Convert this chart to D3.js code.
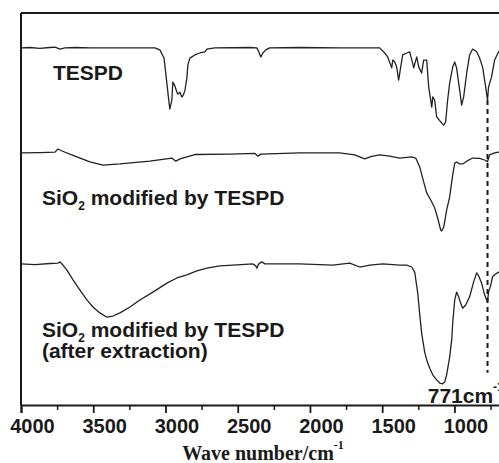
<!DOCTYPE html>
<html>
<head>
<meta charset="utf-8">
<script src="https://cdn.jsdelivr.net/npm/d3@7"></script>
<style>
  body { margin: 0; background: #fff; overflow: hidden; }
  svg { display: block; }
</style>
</head>
<body>
<div id="chart"></div>
<script>
// FTIR spectra: TESPD, modified SiO2, modified SiO2 after extraction
// x = wave number (cm-1, reversed), y = offset transmittance (arbitrary units)

const majorTicks = [4000, 3500, 3000, 2500, 2000, 1500, 1000];
const minorTicks = [3750, 3250, 2750, 2250, 1750, 1250, 750];

const tespd = [
    [4000, 91.1], [3938, 91.2], [3869, 91.0], [3800, 91.2], [3765, 91.3], [3730, 90.8],
    [3696, 91.1], [3627, 91.2], [3523, 91.1], [3315, 91.1], [3073, 91.1], [3039, 90.6],
    [3010, 88.5], [2990, 82.0], [2975, 77.0], [2970, 75.5], [2956, 77.8], [2949, 82.4],
    [2935, 81.4], [2921, 79.8], [2914, 79.3], [2900, 79.8], [2887, 78.6], [2880, 78.8],
    [2866, 80.1], [2852, 83.4], [2845, 86.7], [2831, 88.5], [2797, 89.3], [2762, 89.8],
    [2727, 90.1], [2714, 90.8], [2658, 91.1], [2416, 91.2], [2368, 91.1], [2354, 90.1],
    [2340, 88.8], [2326, 89.8], [2306, 90.6], [2278, 91.1], [2071, 91.2], [1794, 91.1],
    [1517, 91.1], [1483, 89.8], [1462, 88.8], [1434, 86.0], [1427, 88.0], [1413, 87.5],
    [1400, 86.2], [1386, 82.9], [1372, 86.2], [1358, 89.3], [1330, 89.8], [1310, 90.1],
    [1289, 87.2], [1282, 86.0], [1261, 88.8], [1247, 86.2], [1227, 84.7], [1213, 88.0],
    [1192, 88.0], [1178, 81.1], [1157, 76.0], [1150, 78.6], [1137, 77.8], [1123, 73.5],
    [1088, 71.9], [1074, 71.4], [1061, 72.2], [1047, 77.8], [1033, 82.1], [1012, 86.2],
    [998, 87.5], [985, 86.0], [964, 80.4], [950, 76.5], [936, 78.6], [915, 84.7],
    [895, 89.3], [874, 90.8], [846, 90.1], [826, 88.5], [805, 86.2], [788, 82.1],
    [771, 77.8], [764, 81.1], [743, 83.7], [722, 88.0], [694, 90.1], [653, 91.1]
];

const sio2Modified = [
    [4000, 64.3], [3869, 64.4], [3765, 64.5], [3744, 65.3], [3716, 64.8], [3627, 63.5],
    [3523, 62.0], [3433, 61.2], [3315, 61.5], [3108, 62.2], [2956, 63.0], [2928, 62.2],
    [2900, 62.8], [2797, 63.9], [2555, 64.0], [2382, 64.2], [2361, 63.5], [2340, 64.0],
    [2071, 64.3], [1794, 64.3], [1690, 63.8], [1621, 62.8], [1573, 63.4], [1517, 63.8],
    [1448, 63.5], [1379, 63.0], [1296, 63.3], [1268, 63.0], [1240, 60.7], [1213, 56.9],
    [1192, 54.1], [1164, 52.3], [1137, 50.3], [1116, 47.7], [1095, 44.6], [1088, 44.4],
    [1074, 45.4], [1054, 49.7], [1033, 53.1], [1012, 58.7], [998, 61.7], [985, 62.0],
    [964, 61.5], [943, 61.5], [915, 62.2], [874, 63.0], [826, 62.9], [791, 62.5],
    [771, 62.1], [756, 63.8], [722, 64.3], [694, 64.5], [653, 64.5]
];

const sio2Extracted = [
    [4000, 36.0], [3903, 35.8], [3799, 36.1], [3744, 36.2], [3730, 36.5], [3710, 35.7],
    [3682, 34.4], [3640, 31.9], [3592, 29.3], [3544, 26.8], [3502, 25.0], [3454, 23.5],
    [3405, 22.4], [3364, 22.7], [3315, 23.5], [3246, 25.0], [3177, 26.8], [3087, 28.8],
    [2990, 31.1], [2921, 32.4], [2852, 33.2], [2783, 34.2], [2714, 34.9], [2624, 35.5],
    [2534, 35.7], [2396, 36.0], [2375, 35.5], [2368, 34.9], [2354, 36.0], [2333, 36.5],
    [2312, 36.0], [2071, 36.0], [1842, 35.7], [1725, 36.2], [1655, 35.2], [1586, 35.7],
    [1496, 36.0], [1379, 35.7], [1330, 35.7], [1296, 35.2], [1275, 33.9], [1254, 28.6],
    [1240, 23.0], [1227, 18.4], [1206, 13.5], [1192, 11.5], [1171, 9.4], [1150, 7.7],
    [1123, 6.4], [1102, 5.6], [1081, 5.4], [1067, 5.9], [1054, 7.7], [1033, 12.2],
    [1019, 16.6], [1012, 20.9], [998, 26.8], [985, 28.8], [971, 27.6], [957, 26.0],
    [943, 24.7], [922, 25.5], [895, 27.6], [867, 31.4], [846, 33.7], [833, 33.0],
    [812, 31.1], [791, 28.1], [771, 26.3], [764, 28.8], [750, 30.4], [736, 32.7],
    [715, 33.4], [694, 33.9], [653, 34.4]
];

// dashed guide at 771 cm-1: [wave number, from, to]
const guideLine = [771, 77.8, 8.2];

// labels: [wave number, y, text lines]
const seriesLabels = [
    { wn: 3779, y: 82.9, lines: [['TESPD']] },
    { wn: 3855, y: 51.0, lines: [['SiO', '2', ' modified by TESPD']] },
    { wn: 3855, y: 17.3, lines: [['SiO', '2', ' modified by TESPD'], ['(after extraction)']] }
];
const peakLabel = { wn: 1185, y: 0.5, text: '771cm', sup: '-1' };

const W = 499, H = 463;

const svg = d3.select('#chart')
    .append('svg')
    .attr('width', W)
    .attr('height', H);

const x = d3.scaleLinear().domain([4000, 650]).range([21, 505]);
const y = d3.scaleLinear().domain([0, 100]).range([405, 13]);

const ink = '#1a1a1a';

// frame (left + top), bottom is the axis
svg.append('line')
    .attr('x1', x(4000)).attr('x2', x(4000))
    .attr('y1', y(100)).attr('y2', y(0))
    .attr('stroke', ink).attr('stroke-width', 2);
svg.append('line')
    .attr('x1', x(4000)).attr('x2', x(650))
    .attr('y1', y(100)).attr('y2', y(100))
    .attr('stroke', ink).attr('stroke-width', 2);

// spectra
const line = d3.line()
    .x(d => x(d[0]))
    .y(d => y(d[1]));

[tespd, sio2Modified, sio2Extracted].forEach(series => {
    svg.append('path')
        .datum(series)
        .attr('fill', 'none')
        .attr('stroke', '#222')
        .attr('stroke-width', 1.3)
        .attr('stroke-linejoin', 'round')
        .attr('d', line);
});

// dashed guide
svg.append('line')
    .attr('x1', x(guideLine[0])).attr('x2', x(guideLine[0]))
    .attr('y1', y(guideLine[1])).attr('y2', y(guideLine[2]))
    .attr('stroke', ink)
    .attr('stroke-width', 2)
    .attr('stroke-dasharray', '5,4');

// axes
const axisMajor = svg.append('g')
    .attr('transform', `translate(0,${y(0)})`)
    .call(d3.axisBottom(x).tickValues(majorTicks).tickSize(8).tickPadding(6).tickFormat(d3.format('d')));

axisMajor.select('.domain').attr('stroke', ink).attr('stroke-width', 2);
axisMajor.selectAll('.tick line').attr('stroke', ink).attr('stroke-width', 1.8);
axisMajor.selectAll('.tick text')
    .attr('dx', 11)
    .attr('fill', ink)
    .attr('font-family', 'Liberation Sans, Arial, sans-serif')
    .attr('font-weight', 'bold')
    .attr('font-size', '20px');

const axisMinor = svg.append('g')
    .attr('transform', `translate(0,${y(0)})`)
    .call(d3.axisBottom(x).tickValues(minorTicks).tickSize(5).tickFormat(''));
axisMinor.select('.domain').remove();
axisMinor.selectAll('.tick line').attr('stroke', ink).attr('stroke-width', 1.5);

// axis title
const title = svg.append('text')
    .attr('x', (x.range()[0] + x.range()[1]) / 2)
    .attr('y', 460)
    .attr('text-anchor', 'middle')
    .attr('font-family', 'Liberation Serif, Times New Roman, serif')
    .attr('font-weight', 'bold')
    .attr('font-size', '20px')
    .attr('fill', ink);
title.append('tspan').text('Wave number/cm');
title.append('tspan').attr('dy', -11).attr('font-size', '12px').text('-1');

// series labels
const labelFont = 'Liberation Sans, Arial, sans-serif';
seriesLabels.forEach(lab => {
    lab.lines.forEach((parts, i) => {
        const t = svg.append('text')
            .attr('x', x(lab.wn))
            .attr('y', y(lab.y) + i * 21)
            .attr('font-family', labelFont)
            .attr('font-weight', 'bold')
            .attr('font-size', '21px')
            .attr('fill', ink);
        t.append('tspan').text(parts[0]);
        if (parts.length > 1) {
            t.append('tspan').attr('dy', 5).attr('font-size', '12px').text(parts[1]);
            t.append('tspan').attr('dy', -5).text(parts[2]);
        }
    });
});

// peak label
const pk = svg.append('text')
    .attr('x', x(peakLabel.wn))
    .attr('y', y(peakLabel.y))
    .attr('font-family', labelFont)
    .attr('font-weight', 'bold')
    .attr('font-size', '21px')
    .attr('fill', ink);
pk.append('tspan').text(peakLabel.text);
pk.append('tspan').attr('dy', -12).attr('font-size', '12px').text(peakLabel.sup);
</script>
</body>
</html>
